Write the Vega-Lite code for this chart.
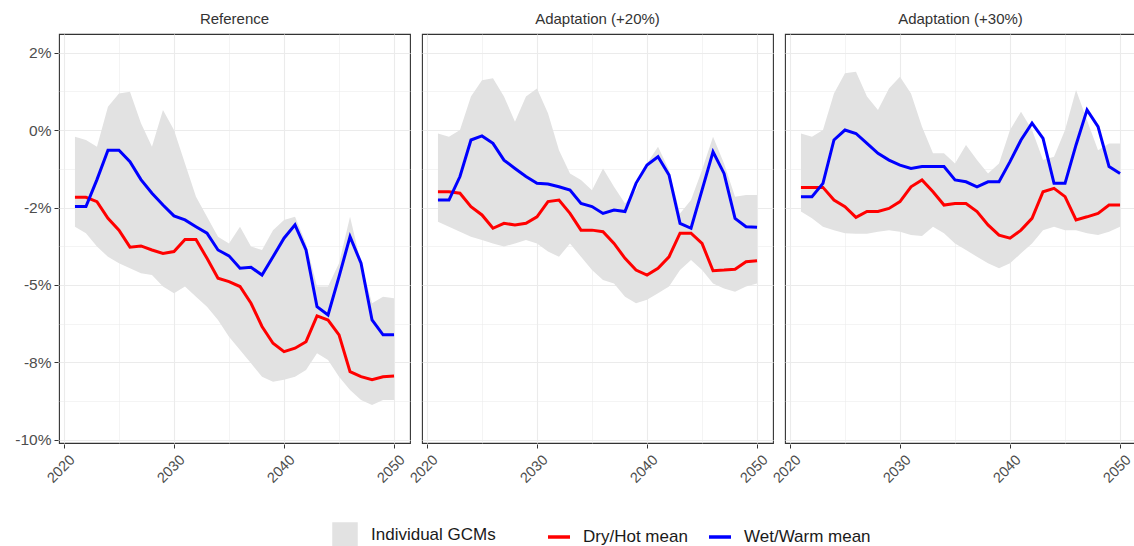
{
  "$schema": "https://vega.github.io/schema/vega-lite/v6.json",
  "padding": {"left": 14, "top": 12, "right": 0, "bottom": 0},
  "background": "white",
  "datasets": {
    "gcm": [
      {"s":"Reference","year":2021,"lo":-3.12,"hi":-0.22,"dry":-2.17,"wet":-2.47},
      {"s":"Reference","year":2022,"lo":-3.33,"hi":-0.32,"dry":-2.17,"wet":-2.47},
      {"s":"Reference","year":2023,"lo":-3.76,"hi":-0.54,"dry":-2.31,"wet":-1.6},
      {"s":"Reference","year":2024,"lo":-4.09,"hi":0.75,"dry":-2.85,"wet":-0.65},
      {"s":"Reference","year":2025,"lo":-4.3,"hi":1.18,"dry":-3.23,"wet":-0.65},
      {"s":"Reference","year":2026,"lo":-4.46,"hi":1.24,"dry":-3.78,"wet":-1.02},
      {"s":"Reference","year":2027,"lo":-4.62,"hi":0.22,"dry":-3.74,"wet":-1.6},
      {"s":"Reference","year":2028,"lo":-4.68,"hi":-0.54,"dry":-3.87,"wet":-2.04},
      {"s":"Reference","year":2029,"lo":-5.05,"hi":0.65,"dry":-3.98,"wet":-2.42},
      {"s":"Reference","year":2030,"lo":-5.27,"hi":0.0,"dry":-3.92,"wet":-2.77},
      {"s":"Reference","year":2031,"lo":-5.05,"hi":-1.08,"dry":-3.53,"wet":-2.9},
      {"s":"Reference","year":2032,"lo":-5.38,"hi":-2.15,"dry":-3.53,"wet":-3.12},
      {"s":"Reference","year":2033,"lo":-5.7,"hi":-2.8,"dry":-4.14,"wet":-3.33},
      {"s":"Reference","year":2034,"lo":-6.13,"hi":-3.44,"dry":-4.78,"wet":-3.87},
      {"s":"Reference","year":2035,"lo":-6.67,"hi":-3.66,"dry":-4.89,"wet":-4.06},
      {"s":"Reference","year":2036,"lo":-7.1,"hi":-3.12,"dry":-5.05,"wet":-4.46},
      {"s":"Reference","year":2037,"lo":-7.53,"hi":-3.76,"dry":-5.59,"wet":-4.43},
      {"s":"Reference","year":2038,"lo":-7.96,"hi":-3.87,"dry":-6.34,"wet":-4.68},
      {"s":"Reference","year":2039,"lo":-8.12,"hi":-3.23,"dry":-6.88,"wet":-4.09},
      {"s":"Reference","year":2040,"lo":-8.06,"hi":-2.9,"dry":-7.15,"wet":-3.49},
      {"s":"Reference","year":2041,"lo":-7.96,"hi":-2.8,"dry":-7.04,"wet":-3.06},
      {"s":"Reference","year":2042,"lo":-7.74,"hi":-3.66,"dry":-6.83,"wet":-3.87},
      {"s":"Reference","year":2043,"lo":-7.2,"hi":-5.05,"dry":-6.0,"wet":-5.7},
      {"s":"Reference","year":2044,"lo":-7.42,"hi":-5.05,"dry":-6.13,"wet":-5.97},
      {"s":"Reference","year":2045,"lo":-7.96,"hi":-4.3,"dry":-6.61,"wet":-4.73},
      {"s":"Reference","year":2046,"lo":-8.39,"hi":-2.8,"dry":-7.8,"wet":-3.44},
      {"s":"Reference","year":2047,"lo":-8.71,"hi":-4.3,"dry":-7.96,"wet":-4.3},
      {"s":"Reference","year":2048,"lo":-8.87,"hi":-5.59,"dry":-8.06,"wet":-6.13},
      {"s":"Reference","year":2049,"lo":-8.71,"hi":-5.38,"dry":-7.96,"wet":-6.61},
      {"s":"Reference","year":2050,"lo":-8.71,"hi":-5.43,"dry":-7.94,"wet":-6.61},

      {"s":"Adaptation (+20%)","year":2021,"lo":-2.96,"hi":-0.11,"dry":-1.99,"wet":-2.26},
      {"s":"Adaptation (+20%)","year":2022,"lo":-3.12,"hi":-0.22,"dry":-1.99,"wet":-2.26},
      {"s":"Adaptation (+20%)","year":2023,"lo":-3.28,"hi":0.0,"dry":-2.04,"wet":-1.5},
      {"s":"Adaptation (+20%)","year":2024,"lo":-3.44,"hi":1.08,"dry":-2.47,"wet":-0.32},
      {"s":"Adaptation (+20%)","year":2025,"lo":-3.55,"hi":1.61,"dry":-2.74,"wet":-0.19},
      {"s":"Adaptation (+20%)","year":2026,"lo":-3.66,"hi":1.67,"dry":-3.17,"wet":-0.43},
      {"s":"Adaptation (+20%)","year":2027,"lo":-3.76,"hi":1.08,"dry":-3.01,"wet":-0.97},
      {"s":"Adaptation (+20%)","year":2028,"lo":-3.66,"hi":0.27,"dry":-3.06,"wet":-1.24},
      {"s":"Adaptation (+20%)","year":2029,"lo":-3.55,"hi":1.08,"dry":-3.01,"wet":-1.5},
      {"s":"Adaptation (+20%)","year":2030,"lo":-3.66,"hi":1.34,"dry":-2.8,"wet":-1.72},
      {"s":"Adaptation (+20%)","year":2031,"lo":-3.92,"hi":0.54,"dry":-2.31,"wet":-1.74},
      {"s":"Adaptation (+20%)","year":2032,"lo":-4.09,"hi":-0.65,"dry":-2.26,"wet":-1.83},
      {"s":"Adaptation (+20%)","year":2033,"lo":-3.66,"hi":-1.4,"dry":-2.69,"wet":-1.94},
      {"s":"Adaptation (+20%)","year":2034,"lo":-4.09,"hi":-1.61,"dry":-3.23,"wet":-2.37},
      {"s":"Adaptation (+20%)","year":2035,"lo":-4.52,"hi":-1.94,"dry":-3.23,"wet":-2.47},
      {"s":"Adaptation (+20%)","year":2036,"lo":-4.84,"hi":-1.24,"dry":-3.28,"wet":-2.69},
      {"s":"Adaptation (+20%)","year":2037,"lo":-4.95,"hi":-1.83,"dry":-3.66,"wet":-2.58},
      {"s":"Adaptation (+20%)","year":2038,"lo":-5.38,"hi":-2.37,"dry":-4.14,"wet":-2.63},
      {"s":"Adaptation (+20%)","year":2039,"lo":-5.59,"hi":-1.94,"dry":-4.52,"wet":-1.72},
      {"s":"Adaptation (+20%)","year":2040,"lo":-5.48,"hi":-1.08,"dry":-4.68,"wet":-1.13},
      {"s":"Adaptation (+20%)","year":2041,"lo":-5.27,"hi":-0.54,"dry":-4.46,"wet":-0.86},
      {"s":"Adaptation (+20%)","year":2042,"lo":-5.05,"hi":-1.29,"dry":-4.09,"wet":-1.45},
      {"s":"Adaptation (+20%)","year":2043,"lo":-4.52,"hi":-2.69,"dry":-3.33,"wet":-3.01},
      {"s":"Adaptation (+20%)","year":2044,"lo":-4.19,"hi":-2.26,"dry":-3.33,"wet":-3.17},
      {"s":"Adaptation (+20%)","year":2045,"lo":-4.52,"hi":-1.29,"dry":-3.66,"wet":-1.94},
      {"s":"Adaptation (+20%)","year":2046,"lo":-4.95,"hi":-0.22,"dry":-4.54,"wet":-0.7},
      {"s":"Adaptation (+20%)","year":2047,"lo":-5.11,"hi":-1.08,"dry":-4.52,"wet":-1.4},
      {"s":"Adaptation (+20%)","year":2048,"lo":-5.22,"hi":-2.15,"dry":-4.49,"wet":-2.85},
      {"s":"Adaptation (+20%)","year":2049,"lo":-5.05,"hi":-2.1,"dry":-4.25,"wet":-3.12},
      {"s":"Adaptation (+20%)","year":2050,"lo":-4.95,"hi":-2.1,"dry":-4.22,"wet":-3.14},

      {"s":"Adaptation (+30%)","year":2021,"lo":-2.63,"hi":-0.11,"dry":-1.85,"wet":-2.15},
      {"s":"Adaptation (+30%)","year":2022,"lo":-2.85,"hi":-0.22,"dry":-1.85,"wet":-2.15},
      {"s":"Adaptation (+30%)","year":2023,"lo":-3.12,"hi":0.0,"dry":-1.85,"wet":-1.72},
      {"s":"Adaptation (+30%)","year":2024,"lo":-3.23,"hi":1.18,"dry":-2.26,"wet":-0.32},
      {"s":"Adaptation (+30%)","year":2025,"lo":-3.33,"hi":1.83,"dry":-2.47,"wet":0.0},
      {"s":"Adaptation (+30%)","year":2026,"lo":-3.35,"hi":1.88,"dry":-2.82,"wet":-0.11},
      {"s":"Adaptation (+30%)","year":2027,"lo":-3.35,"hi":1.08,"dry":-2.63,"wet":-0.43},
      {"s":"Adaptation (+30%)","year":2028,"lo":-3.28,"hi":0.65,"dry":-2.63,"wet":-0.75},
      {"s":"Adaptation (+30%)","year":2029,"lo":-3.23,"hi":1.34,"dry":-2.53,"wet":-0.97},
      {"s":"Adaptation (+30%)","year":2030,"lo":-3.28,"hi":1.72,"dry":-2.31,"wet":-1.13},
      {"s":"Adaptation (+30%)","year":2031,"lo":-3.39,"hi":1.18,"dry":-1.83,"wet":-1.24},
      {"s":"Adaptation (+30%)","year":2032,"lo":-3.42,"hi":0.11,"dry":-1.61,"wet":-1.18},
      {"s":"Adaptation (+30%)","year":2033,"lo":-3.12,"hi":-0.75,"dry":-1.99,"wet":-1.18},
      {"s":"Adaptation (+30%)","year":2034,"lo":-3.33,"hi":-0.75,"dry":-2.42,"wet":-1.18},
      {"s":"Adaptation (+30%)","year":2035,"lo":-3.66,"hi":-1.08,"dry":-2.37,"wet":-1.61},
      {"s":"Adaptation (+30%)","year":2036,"lo":-3.87,"hi":-0.48,"dry":-2.37,"wet":-1.67},
      {"s":"Adaptation (+30%)","year":2037,"lo":-4.09,"hi":-0.97,"dry":-2.63,"wet":-1.83},
      {"s":"Adaptation (+30%)","year":2038,"lo":-4.3,"hi":-1.4,"dry":-3.06,"wet":-1.67},
      {"s":"Adaptation (+30%)","year":2039,"lo":-4.46,"hi":-1.08,"dry":-3.39,"wet":-1.67},
      {"s":"Adaptation (+30%)","year":2040,"lo":-4.3,"hi":0.0,"dry":-3.49,"wet":-1.02},
      {"s":"Adaptation (+30%)","year":2041,"lo":-3.98,"hi":0.59,"dry":-3.23,"wet":-0.32},
      {"s":"Adaptation (+30%)","year":2042,"lo":-3.66,"hi":0.0,"dry":-2.85,"wet":0.22},
      {"s":"Adaptation (+30%)","year":2043,"lo":-3.23,"hi":-0.97,"dry":-1.99,"wet":-0.27},
      {"s":"Adaptation (+30%)","year":2044,"lo":-3.12,"hi":-0.86,"dry":-1.88,"wet":-1.72},
      {"s":"Adaptation (+30%)","year":2045,"lo":-3.23,"hi":0.0,"dry":-2.15,"wet":-1.72},
      {"s":"Adaptation (+30%)","year":2046,"lo":-3.23,"hi":1.29,"dry":-2.9,"wet":-0.48},
      {"s":"Adaptation (+30%)","year":2047,"lo":-3.33,"hi":0.32,"dry":-2.8,"wet":0.65},
      {"s":"Adaptation (+30%)","year":2048,"lo":-3.39,"hi":-0.65,"dry":-2.69,"wet":0.11},
      {"s":"Adaptation (+30%)","year":2049,"lo":-3.28,"hi":-0.43,"dry":-2.42,"wet":-1.18},
      {"s":"Adaptation (+30%)","year":2050,"lo":-3.12,"hi":-0.43,"dry":-2.42,"wet":-1.4}
    ]
  },
  "data": {"name": "gcm"},
  "facet": {
    "column": {
      "field": "s",
      "type": "nominal",
      "sort": ["Reference", "Adaptation (+20%)", "Adaptation (+30%)"],
      "title": null,
      "header": {"labelFontSize": 15, "labelColor": "#333333", "labelFont": "Liberation Sans", "labelPadding": 6}
    }
  },
  "spacing": 10,
  "spec": {
    "width": 351,
    "height": 409,
    "encoding": {
      "x": {
        "field": "year",
        "type": "quantitative",
        "scale": {"domain": [2019.55, 2051.45], "nice": false, "zero": false},
        "axis": {
          "title": null,
          "values": [2020, 2025, 2030, 2035, 2040, 2045, 2050],
          "labelExpr": "datum.value % 10 == 0 ? datum.value : ''",
          "labelAngle": -45,
          "labelAlign": "center",
          "labelBaseline": "middle",
          "labelPadding": 21,
          "labelOffset": -3,
          "labelFontSize": 14.5,
          "tickOpacity": {"condition": {"test": "datum.value % 10 == 0", "value": 1}, "value": 0},
          "gridWidth": {"condition": {"test": "datum.value % 10 == 0", "value": 1.1}, "value": 0.55}
        }
      }
    },
    "layer": [
      {
        "mark": {"type": "area", "opacity": 1},
        "encoding": {
          "y": {
            "field": "hi",
            "type": "quantitative",
            "scale": {"domain": [-10.1, 3.1], "nice": false, "zero": false},
            "axis": {
              "title": null,
              "values": [-10, -8.75, -7.5, -6.25, -5, -3.75, -2.5, -1.25, 0, 1.25, 2.5],
              "labelExpr": "datum.value == -10 ? '-10%' : datum.value == -7.5 ? '-8%' : datum.value == -5 ? '-5%' : datum.value == -2.5 ? '-2%' : datum.value == 0 ? '0%' : datum.value == 2.5 ? '2%' : ''",
              "tickOpacity": {"condition": {"test": "datum.value % 2.5 == 0", "value": 1}, "value": 0},
              "gridWidth": {"condition": {"test": "datum.value % 2.5 == 0", "value": 1.1}, "value": 0.55}
            }
          },
          "y2": {"field": "lo"},
          "fill": {
            "datum": "Individual GCMs",
            "type": "nominal",
            "scale": {"range": ["#e2e2e2"]},
            "legend": {"title": null, "orient": "none", "legendX": 273, "legendY": 488, "symbolType": "square", "symbolSize": 650, "symbolStrokeWidth": 0, "labelOffset": 13}
          }
        }
      },
      {
        "mark": {"type": "rule", "color": "#9a9a9a", "strokeWidth": 1.6},
        "encoding": {"y": {"datum": 0}}
      },
      {
        "transform": [{"fold": ["dry", "wet"], "as": ["series", "value"]}],
        "mark": {"type": "line", "strokeWidth": 3},
        "encoding": {
          "y": {"field": "value", "type": "quantitative"},
          "color": {
            "field": "series",
            "type": "nominal",
            "scale": {"domain": ["dry", "wet"], "range": ["#ff0000", "#0000ff"]},
            "legend": {
              "title": null,
              "orient": "none",
              "legendX": 487,
              "legendY": 490,
              "direction": "horizontal",
              "symbolType": "stroke",
              "symbolStrokeWidth": 3.5,
              "symbolSize": 484,
              "labelExpr": "datum.value == 'dry' ? 'Dry/Hot mean' : 'Wet/Warm mean'",
              "columnPadding": 14,
              "labelOffset": 11
            }
          }
        }
      }
    ]
  },
  "config": {
    "font": "Liberation Sans",
    "view": {"stroke": "#333333", "strokeWidth": 1.1},
    "axis": {
      "domain": false,
      "gridColor": "#ebebeb",
      "tickColor": "#333333",
      "tickSize": 4,
      "labelColor": "#4d4d4d",
      "labelFontSize": 15.5,
      "labelPadding": 3
    },
    "legend": {
      "labelFontSize": 17,
      "labelColor": "#1a1a1a",
      "padding": 0
    }
  }
}
